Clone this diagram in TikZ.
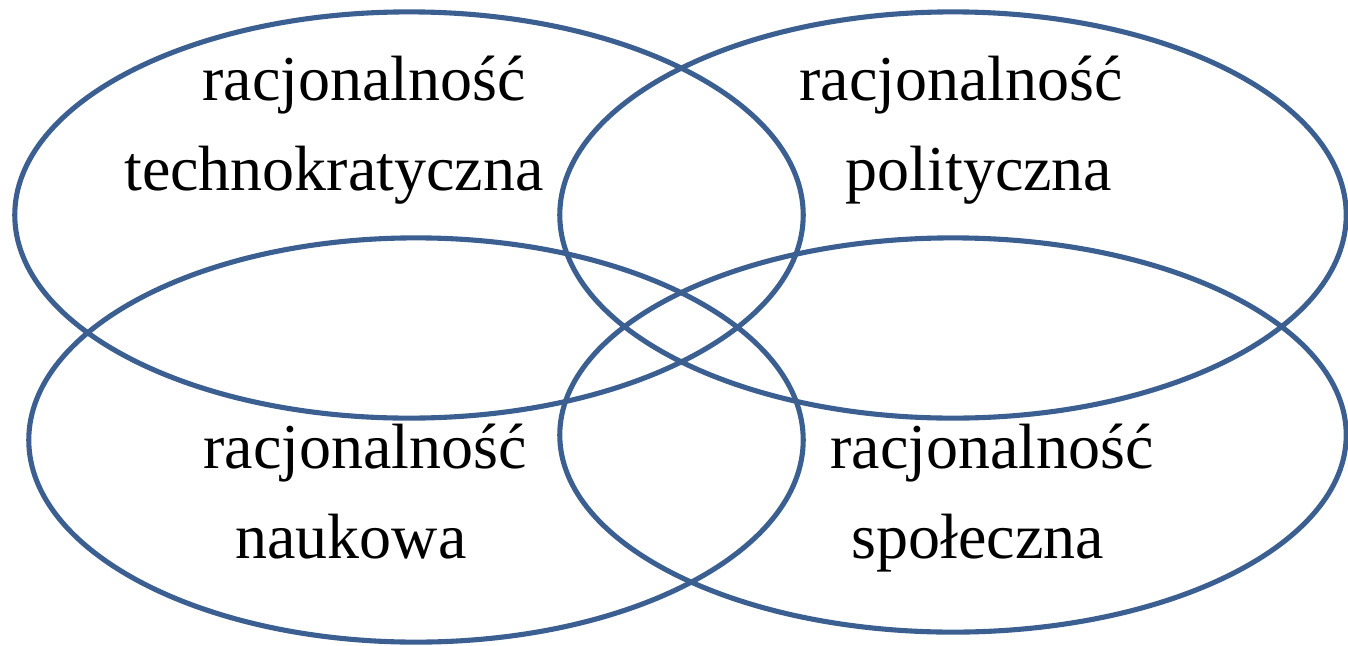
\documentclass[tikz,border=0pt]{standalone}
\usepackage{fontspec}
\setmainfont{Liberation Serif}
\usepackage{tikz}
\definecolor{rg}{RGB}{60,95,145}
\tikzset{
  ring/.style={draw=rg,line width=1.45pt},
  lbl/.style={anchor=base,inner sep=0pt,font=\fontsize{18.2}{22}\selectfont}
}

\begin{document}
\begin{tikzpicture}[x=0.01cm,y=-0.01cm]
  \useasboundingbox (0,0) rectangle (1348,645);

  % four rings
  \draw[ring] (409,215) ellipse [x radius=3.94cm,y radius=2.03cm];
  \draw[ring] (953,215) ellipse [x radius=3.93cm,y radius=2.03cm];
  \draw[ring] (416,440) ellipse [x radius=3.87cm,y radius=2.02cm];
  \draw[ring] (953,435) ellipse [x radius=3.93cm,y radius=1.97cm];

  % labels
  \node[lbl] (tech1) at (364,100) {racjonalność};
  \node[lbl] (tech2) at (334,190) {technokratyczna};
  \node[lbl] (poli1) at (961,100) {racjonalność};
  \node[lbl] (poli2) at (979,190) {polityczna};
  \node[lbl] (nauk1) at (365,468) {racjonalność};
  \node[lbl] (nauk2) at (351,558) {naukowa};
  \node[lbl] (spol1) at (992,468) {racjonalność};
  \node[lbl] (spol2) at (978,558) {społeczna};
\end{tikzpicture}
\end{document}
